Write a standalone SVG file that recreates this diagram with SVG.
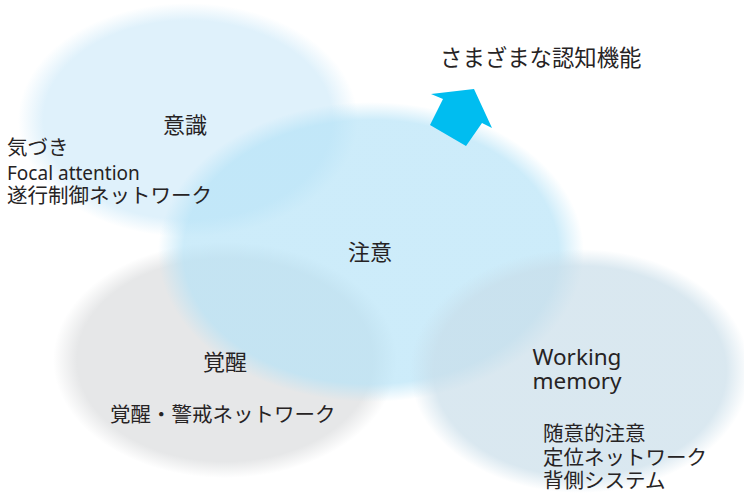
<svg xmlns="http://www.w3.org/2000/svg" width="744" height="493" viewBox="0 0 744 493">
<style>
text{font-family:"Noto Sans","Noto Sans CJK JP",sans-serif;fill:#262324}
.t{font-size:22px}
.s{font-size:20.5px}
.l{font-size:19px}
.w{font-size:22.5px}
.h{font-size:22.4px}
.c{text-anchor:middle}
</style>
<defs>
<radialGradient id="g1"><stop offset="0" stop-color="#dff1fb"/><stop offset="0.85" stop-color="#dff1fb"/><stop offset="1" stop-color="#dff1fb" stop-opacity="0"/></radialGradient>
<radialGradient id="g3"><stop offset="0" stop-color="#e6e7e8"/><stop offset="0.86" stop-color="#e6e7e8"/><stop offset="1" stop-color="#e6e7e8" stop-opacity="0"/></radialGradient>
<radialGradient id="g2"><stop offset="0" stop-color="#b3e2f7" stop-opacity="0.66"/><stop offset="0.88" stop-color="#b3e2f7" stop-opacity="0.66"/><stop offset="1" stop-color="#b3e2f7" stop-opacity="0"/></radialGradient>
<radialGradient id="g4"><stop offset="0" stop-color="#c8dde9" stop-opacity="0.68"/><stop offset="0.86" stop-color="#c8dde9" stop-opacity="0.68"/><stop offset="1" stop-color="#c8dde9" stop-opacity="0"/></radialGradient>
</defs>
<g id="ishiki">
<ellipse cx="188" cy="120" rx="170" ry="117" fill="url(#g1)"/>
</g>
<g id="kakusei">
<ellipse cx="225" cy="360" rx="172" ry="118" fill="url(#g3)"/>
</g>
<g id="chui">
<ellipse cx="371" cy="252" rx="213" ry="150" fill="url(#g2)"/>
</g>
<g id="wm">
<ellipse cx="580" cy="371" rx="170" ry="122" fill="url(#g4)"/>
</g>
<g id="connectors">
<polygon points="431,94 474,89 492,128 482,123 466,146 430,125 443,99" fill="#00bdf0"/>
</g>
<g id="labels">
<text class="h" x="440" y="66">さまざまな認知機能</text>
<text class="t c" x="185" y="133">意識</text>
<text class="s" x="7" y="155">気づき</text>
<text class="l" x="7" y="180">Focal attention</text>
<text class="s" x="7" y="203">遂行制御ネットワーク</text>
<text class="t c" x="370" y="260">注意</text>
<text class="t c" x="225" y="370">覚醒</text>
<text class="s" x="110" y="422">覚醒・警戒ネットワーク</text>
<text class="w c" x="577" y="365">Working</text>
<text class="w c" x="577" y="389">memory</text>
<text class="s" x="543" y="441">随意的注意</text>
<text class="s" x="543" y="465">定位ネットワーク</text>
<text class="s" x="543" y="488">背側システム</text>
</g>
</svg>
